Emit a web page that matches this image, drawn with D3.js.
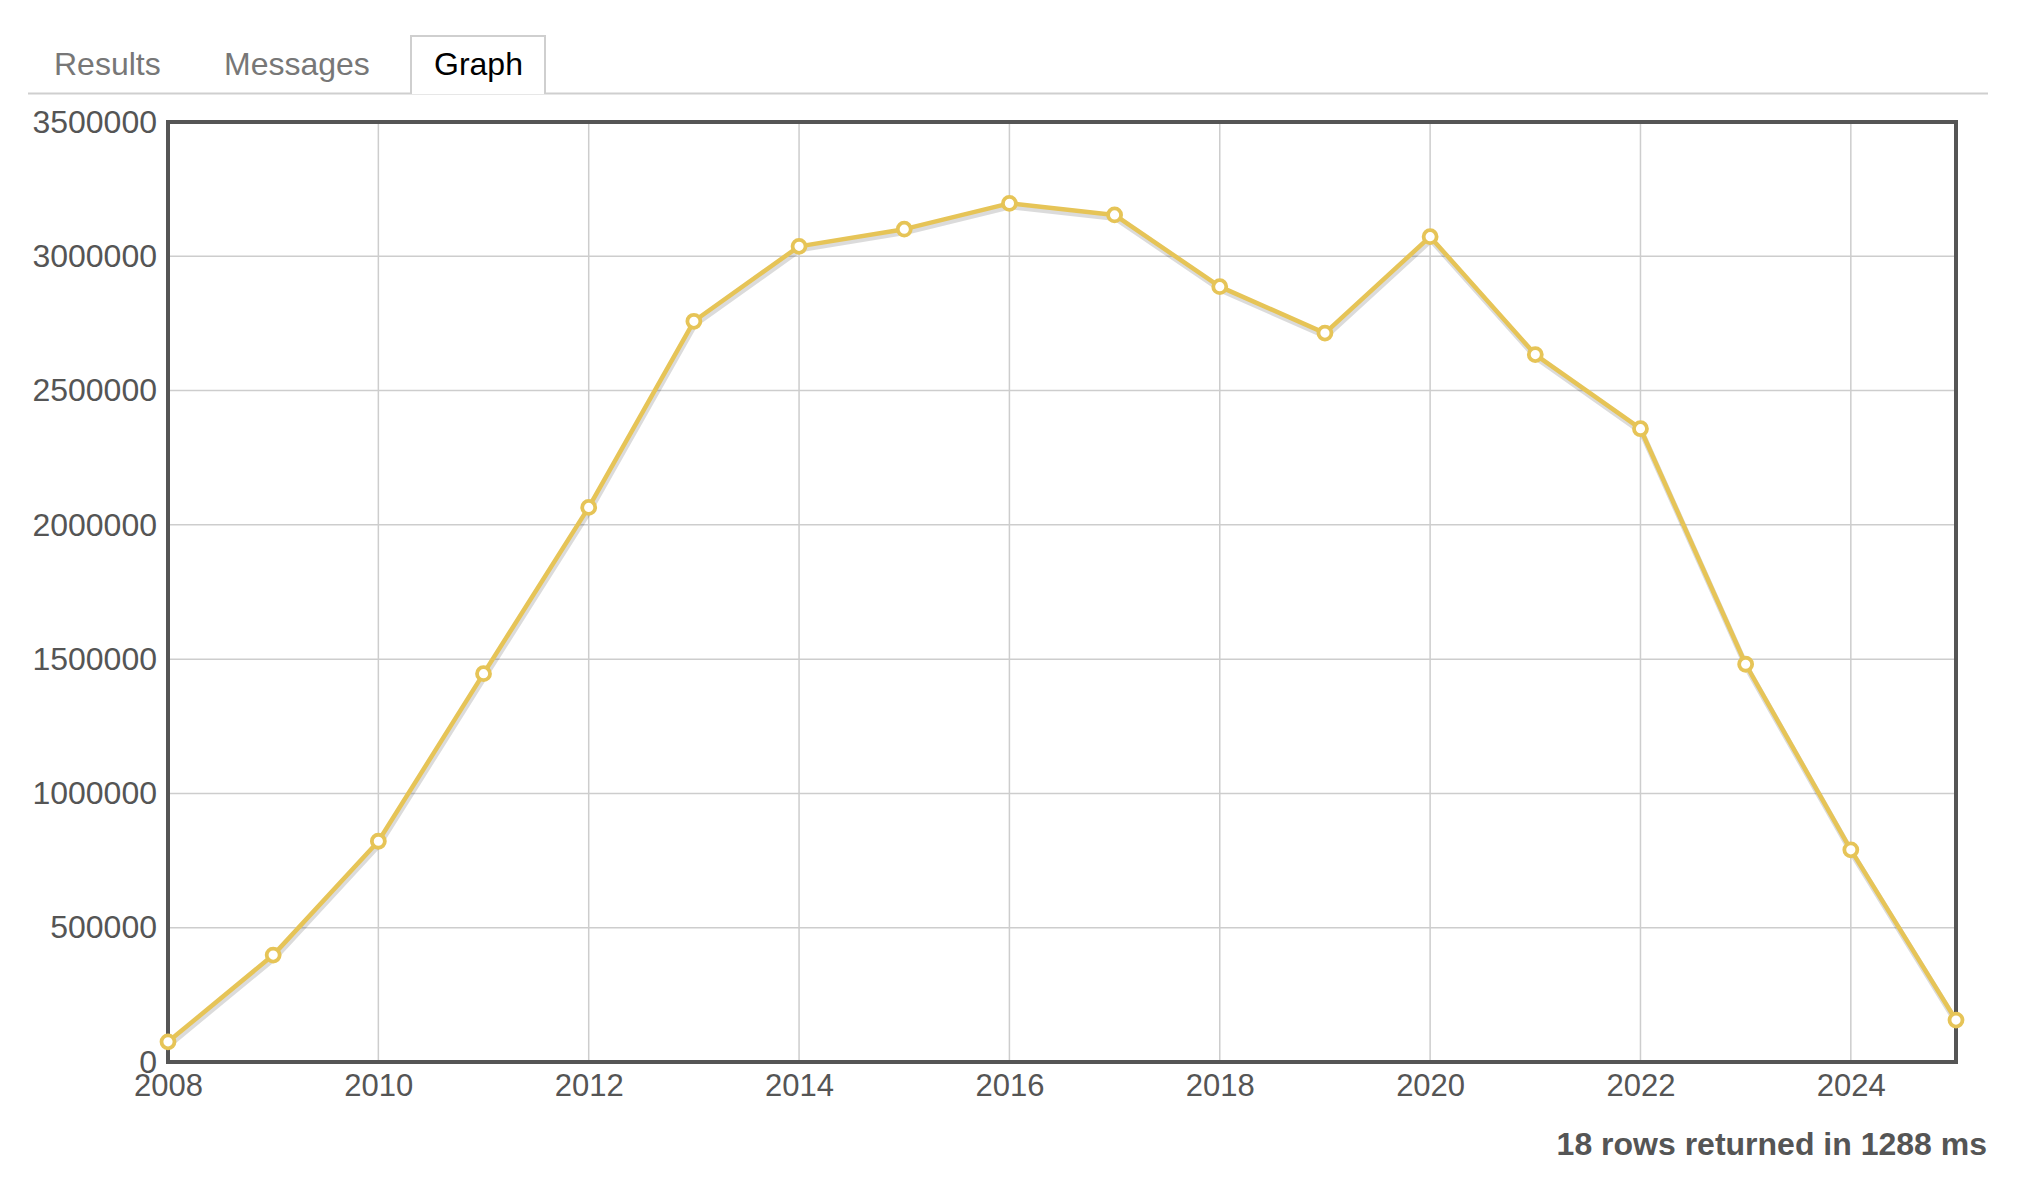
<!DOCTYPE html>
<html>
<head>
<meta charset="utf-8">
<script src="https://cdn.jsdelivr.net/npm/d3@7"></script>
<style>
  html, body { margin: 0; padding: 0; background: #fff; }
  svg { display: block; font-family: "Liberation Sans", Arial, sans-serif; }
</style>
</head>
<body>
<svg id="chart" width="2027" height="1191"></svg>
<script>
// ---- data ----
const years = [2008, 2009, 2010, 2011, 2012, 2013, 2014, 2015, 2016, 2017, 2018, 2019, 2020, 2021, 2022, 2023, 2024, 2025];
const values = [75000, 398000, 822000, 1446000, 2065000, 2758000, 3037000, 3101000, 3197000, 3154000, 2887000, 2714000, 3073000, 2634000, 2358000, 1481000, 790000, 156000];
const yTicks = [0, 500000, 1000000, 1500000, 2000000, 2500000, 3000000, 3500000];
const xTicks = [2008, 2010, 2012, 2014, 2016, 2018, 2020, 2022, 2024];
const tabs = ["Results", "Messages", "Graph"];
const footerText = "18 rows returned in 1288 ms";

const svg = d3.select("#chart");
const L = 168, R = 1956, T = 122, B = 1062;
const x = d3.scaleLinear().domain([2008, 2025]).range([L, R]);
const y = d3.scaleLinear().domain([0, 3500000]).range([B, T]);

// ---- tabs ----
svg.append("line").attr("x1", 28).attr("x2", 1988).attr("y1", 93.5).attr("y2", 93.5)
  .attr("stroke", "#cfcfcf").attr("stroke-width", 2);
svg.append("path").attr("d", "M411,94 L411,36 L545,36 L545,94")
  .attr("fill", "#fff").attr("stroke", "#cfcfcf").attr("stroke-width", 2);
const tabX = [54, 224, 434];
tabs.forEach((t, i) => {
  svg.append("text").attr("x", tabX[i]).attr("y", 75)
    .attr("font-size", 32).attr("fill", i === 2 ? "#000" : "#777").text(t);
});

// ---- grid ----
const g = svg.append("g");
g.append("g").selectAll("line").data(yTicks).join("line")
  .attr("x1", L).attr("x2", R).attr("y1", d => y(d)).attr("y2", d => y(d))
  .attr("stroke", "#cdcdcd").attr("stroke-width", 1.5);
g.append("g").selectAll("line").data(xTicks).join("line")
  .attr("x1", d => x(d)).attr("x2", d => x(d)).attr("y1", T).attr("y2", B)
  .attr("stroke", "#cdcdcd").attr("stroke-width", 1.5);

// ---- axes (labels) ----
const yAxis = d3.axisLeft(y).tickValues(yTicks).tickSize(0).tickPadding(11).tickFormat(d3.format("d"));
const ya = svg.append("g").attr("transform", `translate(${L},0)`).call(yAxis);
ya.select(".domain").remove();
ya.selectAll("text").attr("font-size", 32).attr("fill", "#555").attr("font-family", "Liberation Sans, Arial, sans-serif");

const xAxis = d3.axisBottom(x).tickValues(xTicks).tickSize(0).tickPadding(12).tickFormat(d3.format("d"));
const xa = svg.append("g").attr("transform", `translate(0,${B})`).call(xAxis);
xa.select(".domain").remove();
xa.selectAll("text").attr("font-size", 31).attr("fill", "#555").attr("font-family", "Liberation Sans, Arial, sans-serif");

// ---- frame ----
svg.append("rect").attr("x", L).attr("y", T).attr("width", R - L).attr("height", B - T)
  .attr("fill", "none").attr("stroke", "#555").attr("stroke-width", 4);

// ---- series ----
const data = years.map((yr, i) => ({ yr, v: values[i] }));
const line = d3.line().x(d => x(d.yr)).y(d => y(d.v));
svg.append("path").datum(data).attr("d", line).attr("transform", "translate(1,3)")
  .attr("fill", "none").attr("stroke", "rgba(0,0,0,0.14)").attr("stroke-width", 6).attr("stroke-linejoin", "round");
svg.append("path").datum(data).attr("d", line)
  .attr("fill", "none").attr("stroke", "#e6c457").attr("stroke-width", 4.5).attr("stroke-linejoin", "round");
svg.append("g").selectAll("circle").data(data).join("circle")
  .attr("cx", d => x(d.yr)).attr("cy", d => y(d.v)).attr("r", 6.5)
  .attr("fill", "#fff").attr("stroke", "#e6c457").attr("stroke-width", 3.8);

// ---- footer ----
svg.append("text").attr("x", 1987).attr("y", 1155).attr("text-anchor", "end")
  .attr("font-size", 32).attr("font-weight", "bold").attr("fill", "#555").text(footerText);
</script>
</body>
</html>
